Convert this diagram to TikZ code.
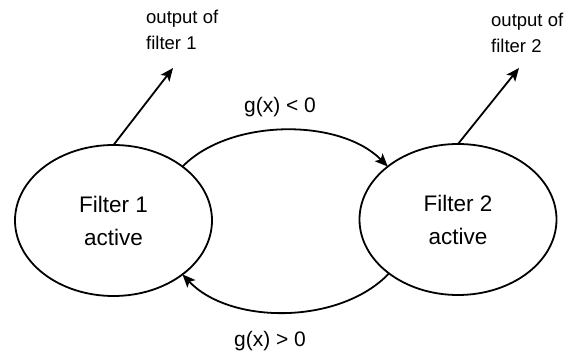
\documentclass[tikz,border=0pt]{standalone}
\usepackage{fontspec}
\setmainfont{Liberation Sans}
\usetikzlibrary{arrows.meta,shapes.geometric}
\begin{document}
\begin{tikzpicture}[x=1pt,y=-1pt,
  state/.style={ellipse,draw,line width=1.8pt,minimum width=197pt,minimum height=151pt,inner sep=0pt,outer sep=0pt,align=center,font=\fontsize{22.5}{33}\selectfont},
  conn/.style={line width=1.8pt,-{Stealth[length=13pt,width=11pt,inset=3pt]}},
  outlabel/.style={align=left,anchor=west,inner sep=0pt,font=\fontsize{18.5}{26}\selectfont},
  glabel/.style={inner sep=0pt,font=\fontsize{21}{25}\selectfont}]
\useasboundingbox (0,0) rectangle (574,353);
\node[state] (f1) at (113.5,220.5) {Filter 1\\active};
\node[state] (f2) at (458,219.5) {Filter 2\\active};
\coordinate (o1) at (173,68);
\coordinate (o2) at (519,68);
\node[outlabel] (l1) at (146,30) {output of\\filter 1};
\node[outlabel] (l2) at (491,33) {output of\\filter 2};
\node[glabel] (g1) at (280,107) {g(x) < 0};
\node[glabel] (g2) at (270,341) {g(x) > 0};
\draw[conn] (f1.north) -- (o1);
\draw[conn] (f2.north) -- (o2);
\draw[conn] (f1.38) .. controls (230,118) and (340,118) .. (f2.143);
\draw[conn] (f2.218) .. controls (340,325) and (230,325) .. (f1.-38);
\end{tikzpicture}
\end{document}
